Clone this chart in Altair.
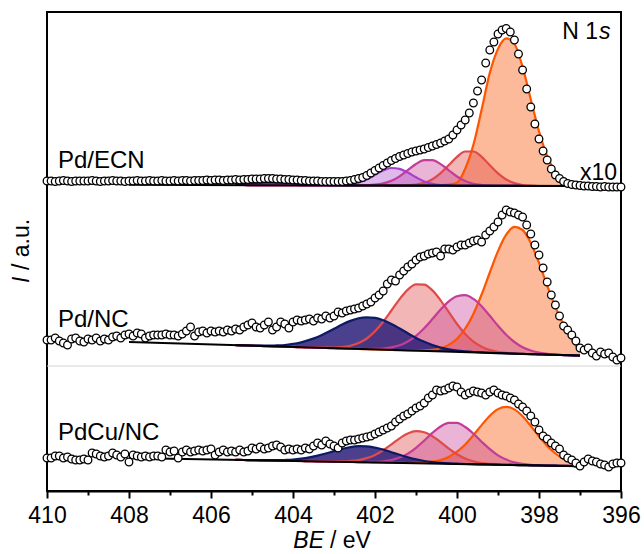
import altair as alt
import pandas as pd

# ---------------- data ----------------
samples = ["Pd/ECN", "Pd/NC", "PdCu/NC"]

# measured spectra (offset intensities, a.u.), BE from 410.0 to 396.0 eV in 0.1 eV steps
data_be = [round(410.0 - 0.1 * i, 1) for i in range(141)]

ecn_counts = [
    310, 310, 309.5, 310, 310.5, 310, 309.5, 310, 310, 310,
    310, 310.5, 310, 309.5, 310, 310, 310.5, 310, 310, 309.5,
    310, 310, 310.5, 310, 310, 310.5, 310, 310, 310.5, 310,
    310, 310.5, 310, 310.5, 310.5, 310, 310.5, 310.5, 310.5, 311,
    310.5, 311, 311, 310.5, 311, 311, 311.5, 311, 311.5, 311.5,
    312, 312, 312, 312.5, 312.5, 312.5, 312, 312, 311.5, 311.5,
    311, 311, 310.5, 310.5, 310, 310, 310, 309.5, 309.5, 309.5,
    309.5, 309.5, 309.5, 310, 310.5, 311.5, 312.5, 313.5, 315.5, 318,
    320.5, 323, 325.5, 328, 330.5, 332.5, 334.5, 336, 337.5, 339,
    340, 341, 342, 343.5, 345, 346.5, 348, 350, 352, 356,
    361, 366, 371, 378, 388, 400, 411, 428, 441, 449,
    457, 461, 462.5, 459, 451, 437, 421, 402, 384, 367,
    352, 340, 331, 322, 316, 312.5, 309.5, 307.5, 306.5, 306,
    305.5, 305, 305, 304.5, 304.5, 304, 304.5, 304, 304, 304, 304,
]
nc_counts = [
    151, 151, 153, 150, 148, 146, 152, 153, 150, 149,
    152, 151, 153, 150, 152, 151, 154, 155, 153, 156,
    157, 155, 158, 157, 153, 155, 156, 156, 156, 157,
    156, 156, 155, 157, 160, 164, 155, 159, 160, 158,
    160, 159, 160, 159, 161, 160, 162, 161, 164, 166,
    168, 164, 163, 166, 169, 161, 164, 169, 167, 163,
    169, 171, 170, 171, 172, 170, 173, 172, 175, 173,
    175, 179, 178, 180, 181, 182, 183, 185, 187, 189,
    193, 196, 200, 207, 211, 210, 216, 220, 224, 227,
    231, 234, 235, 237, 238, 239, 235, 242, 242, 241,
    244, 246, 246, 248, 250, 251, 249, 256, 260, 264,
    269, 276, 281, 279, 278, 276, 274, 266, 257, 246,
    236, 223, 209, 196, 186, 175, 165, 161, 156, 150,
    143, 141, 143, 138, 135, 139, 137, 138, 134, 131, 133,
]
cunc_counts = [
    33, 33, 35, 35, 33, 34, 32, 31, 31, 32,
    31, 38, 37, 35, 34, 35, 38, 36, 34, 37,
    29, 36, 35, 34, 35, 34, 35, 35, 34, 41,
    39, 40, 33, 39, 41, 39, 40, 41, 40, 41,
    42, 36, 39, 41, 39, 40, 39, 41, 39, 40,
    43, 42, 44, 42, 43, 45, 46, 44, 41, 42,
    41, 42, 41, 43, 42, 45, 48, 46, 50, 47,
    45, 43, 48, 50, 51, 51, 52, 53, 54, 55,
    57, 59, 61, 63, 65, 69, 72, 75, 77, 80,
    83, 85, 88, 93, 96, 101, 100, 101, 103, 105,
    104, 99, 96, 98, 100, 99, 98, 96, 99, 101,
    98, 96, 95, 93, 91, 87, 84, 80, 75, 69,
    61, 55, 52, 48, 45, 42, 36, 33, 31, 28,
    25, 29, 32, 30, 29, 27, 26, 24, 27, 28, 28,
]

# fitted components: BE grid 405.4 -> 397.0 eV (0.2 eV steps)
peak_be = [round(405.4 - 0.2 * i, 1) for i in range(43)]

ecn_base = [
    306.0, 306.0, 305.9, 305.9, 305.9, 305.8, 305.8, 305.8, 305.7, 305.7,
    305.7, 305.7, 305.6, 305.6, 305.6, 305.5, 305.5, 305.5, 305.5, 305.4,
    305.4, 305.4, 305.4, 305.3, 305.3, 305.3, 305.3, 305.2, 305.2, 305.2,
    305.2, 305.1, 305.1, 305.1, 305.1, 305.0, 305.0, 305.0, 305.0, 305.0,
    305.0, 305.0, 305.0,
]
ecn_orange = [
    0, 0, 0, 0, 0, 0, 0, 0, 0, 0,
    0, 0, 0, 0, 0, 0, 0, 0, 0, 0,
    0, 0, 0, 0, 0.2, 0.5, 1.0, 3.0, 17.0, 41.0,
    76.0, 113.0, 137.0, 147.5, 142.0, 119.1, 86.6, 54.6, 29.9, 14.2,
    5.8, 2.1, 0.7,
]
ecn_red = [
    0, 0, 0, 0, 0, 0, 0, 0, 0, 0,
    0, 0, 0, 0, 0, 0, 0, 0, 0, 0,
    0, 0.3, 1.0, 2.8, 6.4, 12.5, 20.7, 29.0, 34.3, 34.3,
    29.0, 20.7, 12.5, 6.4, 2.8, 1.0, 0.3, 0, 0, 0,
    0, 0, 0,
]
ecn_magenta = [
    0, 0, 0, 0, 0, 0, 0, 0, 0, 0,
    0, 0, 0, 0, 0, 0, 0.2, 0.8, 2.1, 4.8,
    9.3, 15.4, 21.6, 25.5, 25.5, 21.6, 15.4, 9.3, 4.8, 2.1,
    0.8, 0.2, 0, 0, 0, 0, 0, 0, 0, 0,
    0, 0, 0,
]
ecn_purple = [
    0, 0, 0, 0, 0, 0, 0, 0, 0, 0,
    0, 0, 0, 0.3, 1.1, 2.9, 6.1, 10.6, 15.1, 17.6,
    16.7, 13.0, 8.3, 4.3, 1.8, 0.6, 0.2, 0, 0, 0,
    0, 0, 0, 0, 0, 0, 0, 0, 0, 0,
    0, 0, 0,
]
ecn_navy = [
    1.1, 1.6, 2.2, 2.7, 3.0, 3.0, 2.7, 2.2, 1.6, 1.1,
    0.7, 0.4, 0.2, 0, 0, 0, 0, 0, 0, 0,
    0, 0, 0, 0, 0, 0, 0, 0, 0, 0,
    0, 0, 0, 0, 0, 0, 0, 0, 0, 0,
    0, 0, 0,
]

nc_base = [
    145.8, 145.6, 145.3, 145.1, 144.8, 144.6, 144.3, 144.1, 143.8, 143.6,
    143.3, 143.1, 142.8, 142.6, 142.3, 142.1, 141.8, 141.6, 141.3, 141.1,
    140.8, 140.6, 140.3, 140.1, 139.8, 139.6, 139.4, 139.1, 138.9, 138.6,
    138.4, 138.1, 137.9, 137.6, 137.4, 137.1, 136.9, 136.6, 136.4, 136.1,
    135.9, 135.6, 135.4,
]
nc_orange = [
    0, 0, 0, 0, 0, 0, 0, 0, 0, 0,
    0, 0, 0, 0, 0, 0, 0, 0, 0, 0,
    0, 0, 0.2, 0.5, 1.3, 3.1, 6.7, 13.0, 23.4, 38.5,
    58.1, 80.4, 102.0, 118.7, 126.7, 123.9, 111.2, 91.5, 69.1, 47.8,
    30.3, 16.0, 4.0,
]
nc_red = [
    0, 0, 0, 0, 0, 0, 0, 0, 0, 0,
    0, 0.2, 0.6, 1.3, 2.9, 5.9, 10.7, 18.1, 27.9, 39.4,
    51.1, 60.8, 66.3, 66.3, 60.8, 51.1, 39.4, 27.9, 18.1, 10.7,
    5.9, 2.9, 1.3, 0.6, 0.2, 0, 0, 0, 0, 0,
    0, 0, 0,
]
nc_magenta = [
    0, 0, 0, 0, 0, 0, 0, 0, 0, 0,
    0, 0, 0, 0, 0, 0, 0.2, 0.5, 1.2, 2.5,
    4.9, 8.9, 14.8, 22.7, 32.1, 41.9, 50.3, 55.7, 56.9, 53.5,
    46.4, 37.1, 27.3, 18.6, 11.6, 6.7, 3.6, 1.7, 0.8, 0.3,
    0.1, 0, 0,
]
nc_navy = [
    0, 0.1, 0.1, 0.2, 0.5, 1.0, 1.7, 3.0, 4.8, 7.5,
    10.8, 14.9, 19.4, 23.9, 27.8, 30.7, 31.9, 31.5, 29.4, 25.9,
    21.7, 17.1, 12.8, 9.1, 6.1, 3.8, 2.3, 1.3, 0.7, 0.4,
    0.2, 0.1, 0, 0, 0, 0, 0, 0, 0, 0,
    0, 0, 0,
]

cunc_base = [
    31.2, 31.0, 30.9, 30.7, 30.6, 30.4, 30.3, 30.1, 30.0, 29.8,
    29.7, 29.5, 29.4, 29.2, 29.1, 28.9, 28.8, 28.6, 28.5, 28.3,
    28.2, 28.0, 27.9, 27.7, 27.6, 27.4, 27.2, 27.1, 26.9, 26.8,
    26.6, 26.5, 26.3, 26.2, 26.0, 25.9, 25.7, 25.6, 25.4, 25.3,
    25.1, 25.0, 24.8,
]
cunc_orange = [
    0, 0, 0, 0, 0, 0, 0, 0, 0, 0,
    0, 0, 0, 0, 0, 0, 0, 0, 0, 0,
    0, 0, 0.3, 0.8, 1.7, 3.6, 6.9, 12.2, 19.6, 29.0,
    39.3, 48.8, 55.6, 58.0, 55.6, 48.8, 39.3, 29.0, 19.6, 12.2,
    6.9, 3.6, 1.7,
]
cunc_red = [
    0, 0, 0, 0, 0, 0, 0, 0, 0, 0,
    0, 0, 0.1, 0.4, 0.9, 2.0, 4.1, 7.5, 12.3, 18.3,
    24.5, 29.5, 31.9, 31.1, 27.2, 21.5, 15.2, 9.7, 5.6, 2.9,
    1.3, 0.6, 0.2, 0, 0, 0, 0, 0, 0, 0,
    0, 0, 0,
]
cunc_magenta = [
    0, 0, 0, 0, 0, 0, 0, 0, 0, 0,
    0, 0, 0, 0, 0, 0, 0.2, 0.5, 1.2, 2.6,
    5.2, 9.3, 15.3, 22.7, 30.5, 37.1, 41.0, 41.0, 37.1, 30.5,
    22.7, 15.3, 9.3, 5.2, 2.6, 1.2, 0.5, 0.2, 0, 0,
    0, 0, 0,
]
cunc_navy = [
    0, 0, 0, 0.1, 0.2, 0.4, 0.7, 1.3, 2.3, 3.8,
    5.7, 8.0, 10.5, 12.9, 14.8, 15.9, 15.9, 14.8, 12.9, 10.5,
    8.0, 5.7, 3.8, 2.3, 1.3, 0.7, 0.4, 0.2, 0.1, 0,
    0, 0, 0, 0, 0, 0, 0, 0, 0, 0,
    0, 0, 0,
]

# linear backgrounds drawn as black lines
bg_be = [408.0, 397.0]
ecn_bg = [306.2, 305.0]
nc_bg = [149.0, 135.4]
cunc_bg = [33.1, 24.8]

# ---------------- tables ----------------
spectra = pd.DataFrame({
    "be": data_be * 3,
    "sample": [samples[0]] * 141 + [samples[1]] * 141 + [samples[2]] * 141,
    "counts": ecn_counts + nc_counts + cunc_counts,
})

fits = {
    samples[0]: (ecn_base, {"orange": ecn_orange, "red": ecn_red, "magenta": ecn_magenta,
                            "purple": ecn_purple, "navy": ecn_navy}),
    samples[1]: (nc_base, {"orange": nc_orange, "red": nc_red, "magenta": nc_magenta,
                           "navy": nc_navy}),
    samples[2]: (cunc_base, {"orange": cunc_orange, "red": cunc_red, "magenta": cunc_magenta,
                             "navy": cunc_navy}),
}
rows = []
for s, (base, comps) in fits.items():
    for comp, vals in comps.items():
        for e, b, v in zip(peak_be, base, vals):
            rows.append({"sample": s, "comp": comp, "be": e, "base": b, "h": v})
peaks = pd.DataFrame(rows)

bg = pd.DataFrame({
    "be": bg_be * 3,
    "sample": [samples[0]] * 2 + [samples[1]] * 2 + [samples[2]] * 2,
    "bg": ecn_bg + nc_bg + cunc_bg,
})

# ---------------- styles ----------------
FONT = "Liberation Sans"
FS = 23
fill_col = {"orange": "#f8661e", "red": "#e04848", "magenta": "#c84496",
            "purple": "#b050d0", "navy": "#2b1f7a"}
fill_op = {"orange": 0.45, "red": 0.4, "magenta": 0.4, "purple": 0.4, "navy": 0.85}
line_col = {"orange": "#ff5500", "red": "#e04a4a", "magenta": "#c23c98",
            "purple": "#a540c8", "navy": "#0d1a66"}

xscale = alt.Scale(domain=[396, 410], reverse=True, nice=False, zero=False)
yscale = alt.Scale(domain=[0, 479], nice=False, zero=False)

layers = []
layers.append(
    alt.Chart(pd.DataFrame({"k": [0]})).mark_rule(color="#d2d2d2", strokeWidth=1)
    .encode(x=alt.value(0), x2=alt.value(574), y=alt.value(354))
)

for comp in ["orange", "red", "magenta", "purple", "navy"]:
    base_chart = alt.Chart(peaks).transform_filter(alt.datum.comp == comp).transform_calculate(
        top="datum.base + datum.h")
    layers.append(
        base_chart.mark_area(interpolate="monotone", color=fill_col[comp], opacity=fill_op[comp])
        .encode(x=alt.X("be:Q", scale=xscale, axis=None),
                y=alt.Y("top:Q", scale=yscale, axis=None),
                y2="base:Q", detail="sample:N")
    )
for comp in ["orange", "red", "magenta", "purple", "navy"]:
    base_chart = alt.Chart(peaks).transform_filter(alt.datum.comp == comp).transform_calculate(
        top="datum.base + datum.h")
    layers.append(
        base_chart.mark_line(interpolate="monotone", color=line_col[comp], strokeWidth=2.2)
        .encode(x=alt.X("be:Q", scale=xscale, axis=None),
                y=alt.Y("top:Q", scale=yscale, axis=None),
                detail="sample:N")
    )

# background lines (carry the minor-tick axis)
layers.append(
    alt.Chart(bg).mark_line(color="black", strokeWidth=2)
    .encode(
        x=alt.X("be:Q", scale=xscale,
                axis=alt.Axis(orient="bottom", values=list(range(397, 410, 2)), labels=False,
                              tickSize=4, tickWidth=2, tickColor="black", domain=False,
                              grid=False, title=None)),
        y=alt.Y("bg:Q", scale=yscale, axis=None),
        detail="sample:N",
    )
)

# data points (carry the major axis)
layers.append(
    alt.Chart(spectra).mark_point(shape="circle", filled=True, fill="white", stroke="black",
                                  strokeWidth=1.3, size=58, opacity=1)
    .encode(
        x=alt.X("be:Q", scale=xscale,
                axis=alt.Axis(orient="bottom", values=list(range(396, 411, 2)), format="d",
                              tickSize=7, tickWidth=2, tickColor="black", domainWidth=2,
                              domainColor="black", labelFont=FONT, labelFontSize=FS,
                              labelColor="black", labelPadding=6, labelFlush=False,
                              labelOverlap=False, grid=False, title=None)),
        y=alt.Y("counts:Q", scale=yscale, axis=None),
        detail="sample:N",
    )
)


def txt(text, x, y, italic=False, align="left", angle=0, baseline="alphabetic", size=FS):
    kw = dict(align=align, baseline=baseline, font=FONT, fontSize=size, color="black",
              fontStyle="italic" if italic else "normal")
    if angle:
        kw["angle"] = angle
    return alt.Chart(pd.DataFrame({"t": [text]})).mark_text(**kw).encode(
        text="t:N", x=alt.value(x), y=alt.value(y))


layers += [
    txt(samples[0], 11, 156, size=24),
    txt(samples[1], 11, 315, size=24),
    txt(samples[2], 11, 428, size=24),
    txt("N 1", 551, 26.5, align="right"),
    txt("s", 552, 26.5, italic=True),
    txt("x10", 570, 168, align="right"),
    txt("BE", 277, 536, italic=True, align="right"),
    txt("/ eV", 283, 536),
    txt("I", -25, 271, italic=True, angle=270, baseline="middle"),
    txt("/ a.u.", -25, 258, angle=270, baseline="middle"),
]

chart = (
    alt.layer(*layers)
    .resolve_axis(x="independent")
    .properties(width=574, height=479,
                padding={"left": 47, "top": 12, "right": 23, "bottom": 63},
                autosize=alt.AutoSizeParams(type="none"))
    .configure_view(stroke="black", strokeWidth=2)
)

chart.save("out.html", embed_options={"renderer": "svg", "actions": False})
